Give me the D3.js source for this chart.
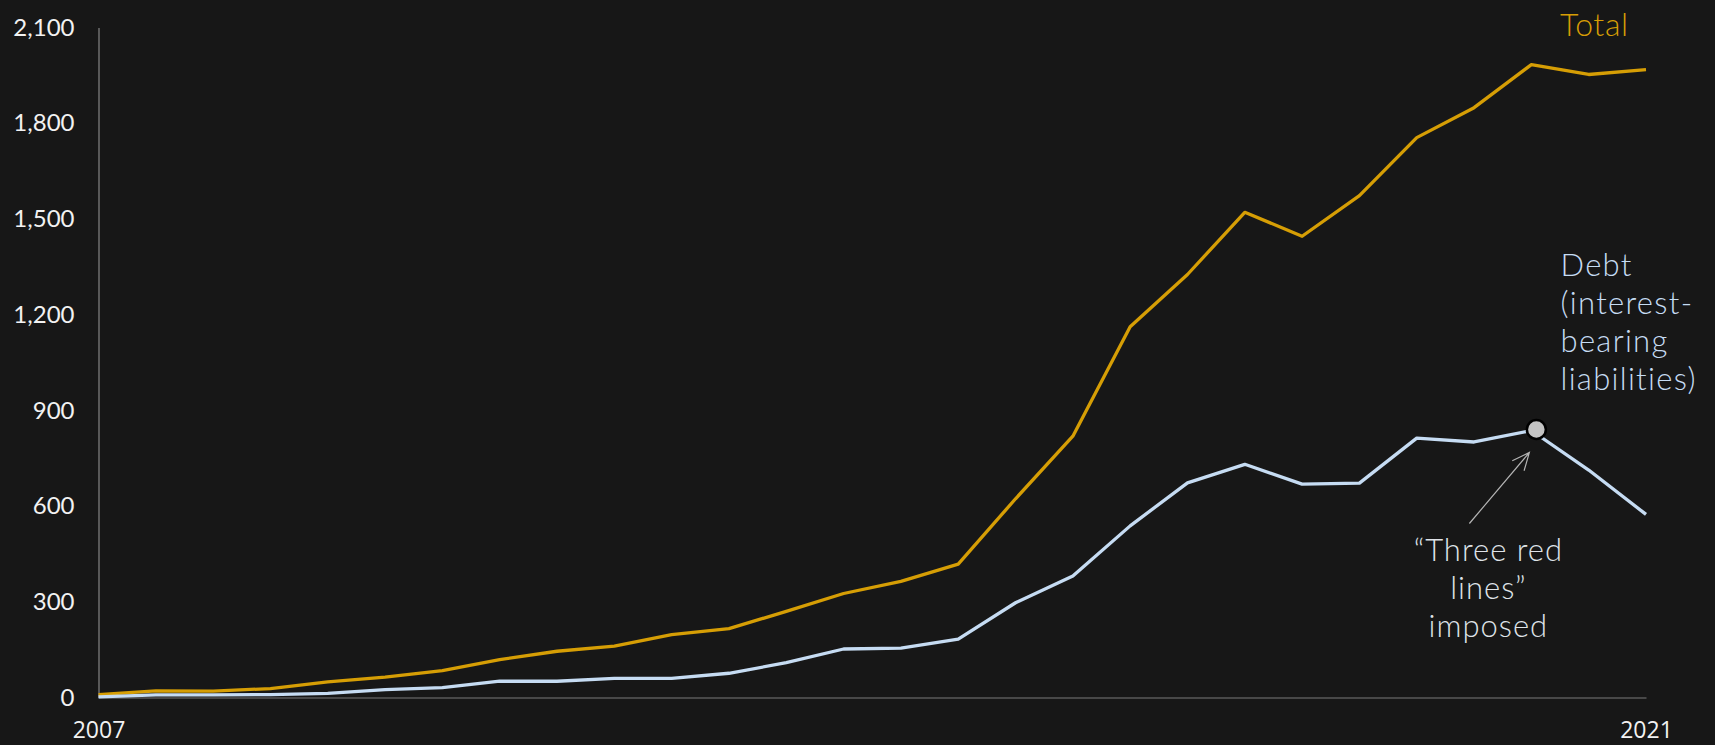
<!DOCTYPE html>
<html>
<head>
<meta charset="utf-8">
<script src="https://cdn.jsdelivr.net/npm/d3@7"></script>
<style>
  html, body { margin: 0; padding: 0; background: #171717; }
  svg { display: block; }
</style>
</head>
<body>
<div id="chart"></div>
<script>
// half-year periods, 2007 H2 .. 2021 H1
const periods = ['2007H2','2008H1','2008H2','2009H1','2009H2','2010H1','2010H2','2011H1','2011H2',
  '2012H1','2012H2','2013H1','2013H2','2014H1','2014H2','2015H1','2015H2','2016H1','2016H2',
  '2017H1','2017H2','2018H1','2018H2','2019H1','2019H2','2020H1','2020H2','2021H1'];
const totalValues = [9, 21, 20, 28, 49, 64, 84, 119, 145, 161, 197, 216, 270, 326, 364, 418,
  623, 819, 1162, 1326, 1521, 1446, 1573, 1755, 1849, 1984, 1953, 1968];
const debtValues = [2, 8, 8, 9, 13, 25, 31, 51, 51, 60, 60, 76, 109, 152, 155, 183,
  297, 381, 538, 673, 731, 669, 672, 813, 801, 837, 713, 574];
const yTicks = [0, 300, 600, 900, 1200, 1500, 1800, 2100];
const xTickLabels = ['2007', '2021'];
const markedPeriod = '2020H1';

const W = 1715, H = 745;
const margin = { top: 27.6, right: 69, bottom: 47.5, left: 98.5 };
const width = W - margin.left - margin.right;
const height = H - margin.top - margin.bottom;

const gold = '#d69e05';
const blue = '#c6dcf3';
const labelFont = 'Lato, "Open Sans", sans-serif';

const x = d3.scalePoint().domain(periods).range([0, width]);
const y = d3.scaleLinear().domain([0, 2100]).range([height, 0]);

const svg = d3.select('#chart').append('svg')
  .attr('width', W)
  .attr('height', H)
  .style('background', '#171717');

const g = svg.append('g')
  .attr('transform', `translate(${margin.left},${margin.top})`);

// y axis
const yAxis = g.append('g')
  .call(d3.axisLeft(y).tickValues(yTicks).tickSize(0).tickSizeOuter(0).tickPadding(24)
    .tickFormat(d3.format(',')));
yAxis.select('.domain').attr('stroke', '#858585').attr('stroke-width', 1.2);
yAxis.selectAll('text')
  .attr('fill', '#f2f2f2')
  .style('font-family', labelFont)
  .style('font-size', '24px');

// x axis
const xAxis = g.append('g')
  .attr('transform', `translate(0,${height})`)
  .call(d3.axisBottom(x).tickValues([periods[0], periods[periods.length - 1]])
    .tickSize(0).tickSizeOuter(0).tickPadding(24)
    .tickFormat((d, i) => xTickLabels[i]));
xAxis.select('.domain').attr('stroke', '#7a7a7a').attr('stroke-width', 1.2);
xAxis.selectAll('text')
  .attr('fill', '#f2f2f2')
  .style('font-family', '"Open Sans", sans-serif')
  .style('font-size', '23px');

const line = d3.line()
  .x((d, i) => x(periods[i]))
  .y(d => y(d));

g.append('path')
  .datum(totalValues)
  .attr('fill', 'none')
  .attr('stroke', gold)
  .attr('stroke-width', 3.3)
  .attr('stroke-linejoin', 'round')
  .attr('d', line);

g.append('path')
  .datum(debtValues)
  .attr('fill', 'none')
  .attr('stroke', blue)
  .attr('stroke-width', 3.3)
  .attr('stroke-linejoin', 'round')
  .attr('d', line);

// series labels
g.append('text')
  .attr('x', width - 86)
  .attr('y', 8.5)
  .attr('fill', gold)
  .style('font-family', labelFont)
  .style('font-weight', 300)
  .style('font-size', '32px')
  .style('letter-spacing', '0.6px')
  .text('Total');

const debtLabel = g.append('text')
  .attr('x', width - 85.5)
  .attr('y', 248)
  .attr('fill', blue)
  .style('font-family', labelFont)
  .style('font-weight', 300)
  .style('font-size', '31px')
  .style('letter-spacing', '1.3px');
['Debt', '(interest-', 'bearing', 'liabilities)'].forEach((t, i) => {
  debtLabel.append('tspan').attr('x', width - 85.5).attr('dy', i === 0 ? 0 : 38.3).text(t);
});

// marker + annotation
const mx = x(markedPeriod);
const my = y(debtValues[periods.indexOf(markedPeriod)]);

const arrowTip = [mx - 2, my + 22];
const arrowTail = [mx - 62, my + 93];
const ang = Math.atan2(arrowTail[1] - arrowTip[1], arrowTail[0] - arrowTip[0]);
const headLen = 19, headSpread = 0.42;
g.append('path')
  .attr('fill', 'none')
  .attr('stroke', '#b4b4b4')
  .attr('stroke-width', 1.2)
  .attr('d', `M${arrowTail[0]},${arrowTail[1]}L${arrowTip[0]},${arrowTip[1]}` +
    `M${arrowTip[0] + headLen * Math.cos(ang - headSpread)},${arrowTip[1] + headLen * Math.sin(ang - headSpread)}` +
    `L${arrowTip[0]},${arrowTip[1]}` +
    `L${arrowTip[0] + headLen * Math.cos(ang + headSpread)},${arrowTip[1] + headLen * Math.sin(ang + headSpread)}`);

g.append('circle')
  .attr('cx', mx + 5)
  .attr('cy', my - 1)
  .attr('r', 9.5)
  .attr('fill', '#c3c3c3')
  .attr('stroke', '#000')
  .attr('stroke-width', 2.5);

const note = g.append('text')
  .attr('text-anchor', 'middle')
  .attr('fill', '#dfe3e8')
  .style('font-family', labelFont)
  .style('font-weight', 300)
  .style('font-size', '31px')
  .style('letter-spacing', '1px')
  .attr('y', my + 131);
['\u201cThree red', 'lines\u201d', 'imposed'].forEach((t, i) => {
  note.append('tspan').attr('x', mx - 43).attr('dy', i === 0 ? 0 : 38).text(t);
});
</script>
</body>
</html>
